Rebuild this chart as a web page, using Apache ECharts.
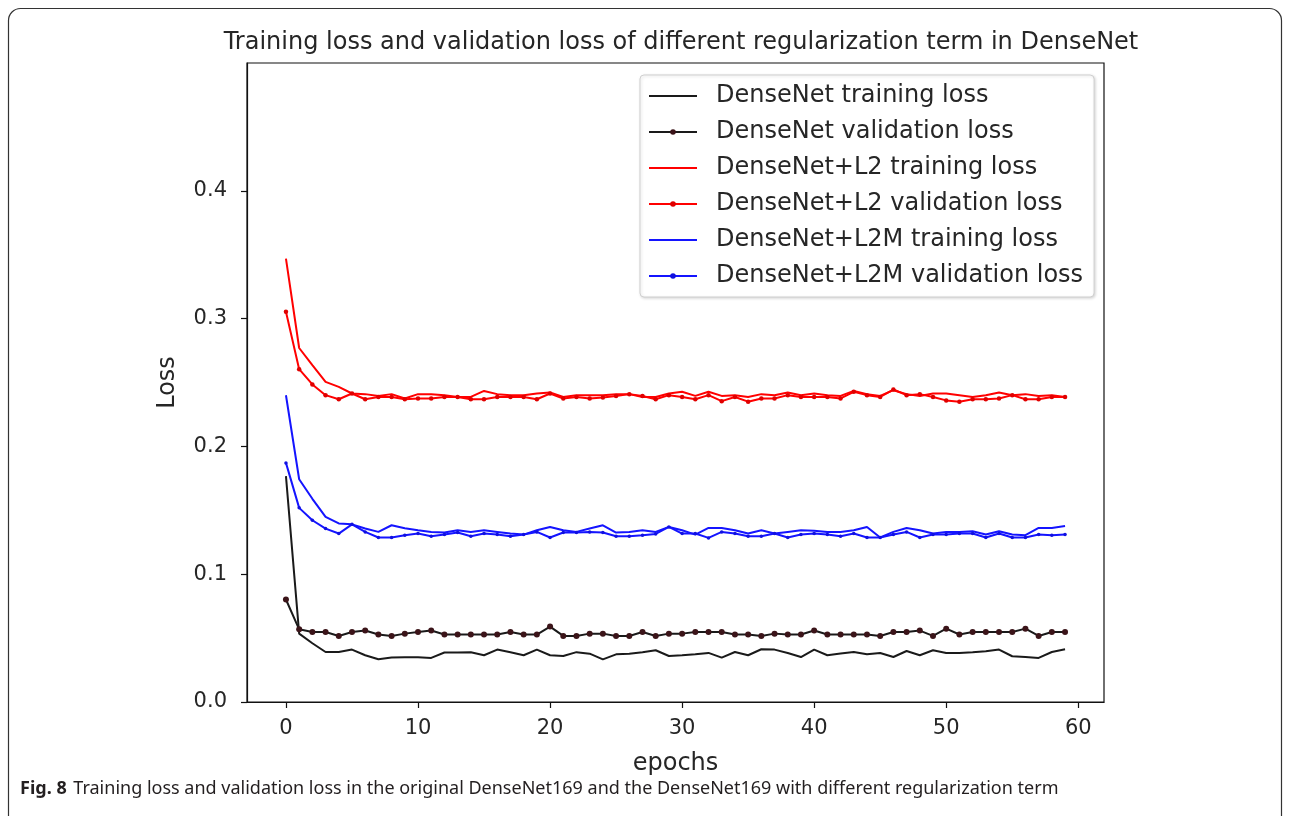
<!DOCTYPE html>
<html>
<head>
<meta charset="utf-8">
<title>DenseNet loss</title>
<script src="https://cdn.jsdelivr.net/npm/echarts@6/dist/echarts.min.js"></script>
<style>
  html, body { margin: 0; padding: 0; background: #fff; }
  #main { width: 1290px; height: 816px; }
</style>
</head>
<body>
<div id="main"></div>
<script>
// epochs 0..59
var epochs = Array.from({ length: 60 }, function (_, i) { return i })
var xTicks = [0, 10, 20, 30, 40, 50, 60]
var yTicks = [0, 0.1, 0.2, 0.3, 0.4]

var denseTrain = [
  0.1767, 0.0535, 0.046, 0.0391, 0.0391, 0.041, 0.0366, 0.0334, 0.0348, 0.035,
  0.035, 0.0345, 0.0387, 0.0387, 0.039, 0.0366, 0.041, 0.039, 0.0366, 0.041,
  0.0366, 0.036, 0.039, 0.0378, 0.0334, 0.0373, 0.0378, 0.039, 0.0405, 0.036,
  0.0366, 0.0373, 0.0384, 0.0347, 0.0391, 0.0366, 0.0413, 0.041, 0.0384, 0.0352,
  0.041, 0.0366, 0.0379, 0.0391, 0.0373, 0.0384, 0.0352, 0.0399, 0.0366, 0.0405,
  0.0384, 0.0384, 0.0389, 0.0397, 0.041, 0.0358, 0.0352, 0.0345, 0.0391, 0.0413
]
var denseVal = [
  0.0802, 0.0569, 0.0548, 0.0548, 0.0517, 0.0548, 0.0559, 0.0528, 0.0517, 0.0535,
  0.0548, 0.0559, 0.0528, 0.0528, 0.0528, 0.0528, 0.0528, 0.0548, 0.0528, 0.0528,
  0.059, 0.0517, 0.0517, 0.0535, 0.0535, 0.0517, 0.0517, 0.0548, 0.0517, 0.0535,
  0.0535, 0.0548, 0.0548, 0.0548, 0.0528, 0.0528, 0.0517, 0.0535, 0.0528, 0.0528,
  0.0559, 0.0528, 0.0528, 0.0528, 0.0528, 0.0517, 0.0548, 0.0548, 0.0559, 0.0517,
  0.0574, 0.0528, 0.0548, 0.0548, 0.0548, 0.0548, 0.0574, 0.0517, 0.0548, 0.0548
]
var l2Train = [
  0.347, 0.277, 0.2636, 0.2505, 0.2466, 0.2414, 0.2409, 0.2395, 0.2409, 0.2375,
  0.2409, 0.2409, 0.2401, 0.2387, 0.2387, 0.2434, 0.2409, 0.2401, 0.2401, 0.2414,
  0.2422, 0.2387, 0.2401, 0.2401, 0.2401, 0.2409, 0.2409, 0.2387, 0.2387, 0.2414,
  0.2427, 0.2395, 0.2427, 0.2395, 0.2401, 0.2387, 0.2409, 0.2401, 0.2422, 0.2401,
  0.2414, 0.2401, 0.2395, 0.2434, 0.2409, 0.2395, 0.244, 0.2409, 0.2395, 0.2414,
  0.2414, 0.2401, 0.2387, 0.2401, 0.2422, 0.2401, 0.2409, 0.2395, 0.2401, 0.2387
]
var l2Val = [
  0.3053, 0.2604, 0.2485, 0.2401, 0.2369, 0.2414, 0.2369, 0.2387, 0.2387, 0.2369,
  0.2375, 0.2375, 0.2387, 0.2387, 0.2369, 0.2369, 0.2387, 0.2387, 0.2387, 0.2369,
  0.2414, 0.2375, 0.2387, 0.2375, 0.2383, 0.2395, 0.2409, 0.2395, 0.2369, 0.2401,
  0.2387, 0.2369, 0.2401, 0.2354, 0.2387, 0.235, 0.2375, 0.2375, 0.2401, 0.2387,
  0.2387, 0.2387, 0.2375, 0.2427, 0.2401, 0.2387, 0.2445, 0.2401, 0.2409, 0.2387,
  0.236, 0.235, 0.2369, 0.2369, 0.2375, 0.2401, 0.2369, 0.2369, 0.2387, 0.2387
]
var l2mTrain = [
  0.24, 0.1743, 0.159, 0.1448, 0.1397, 0.139, 0.1357, 0.1331, 0.1383, 0.136,
  0.1344, 0.1331, 0.1326, 0.1344, 0.1331, 0.1344, 0.1331, 0.1318, 0.131, 0.1344,
  0.137, 0.1344, 0.1331, 0.1357, 0.1383, 0.1326, 0.1331, 0.1344, 0.1331, 0.137,
  0.1344, 0.131, 0.1362, 0.1362, 0.1344, 0.1318, 0.1344, 0.1318, 0.1331, 0.1344,
  0.134, 0.1331, 0.1331, 0.1344, 0.137, 0.1287, 0.1331, 0.1362, 0.1344, 0.1318,
  0.1331, 0.1331, 0.1336, 0.131, 0.1336, 0.131, 0.1305, 0.1362, 0.1362, 0.1378
]
var l2mVal = [
  0.1871, 0.1519, 0.1422, 0.1357, 0.1318, 0.139, 0.1331, 0.1287, 0.1287, 0.1305,
  0.1318, 0.1297, 0.131, 0.1326, 0.1297, 0.1318, 0.131, 0.1297, 0.131, 0.1331,
  0.1287, 0.1326, 0.1326, 0.1331, 0.1326, 0.1297, 0.1297, 0.1305, 0.1315, 0.137,
  0.1318, 0.1318, 0.1284, 0.1331, 0.1318, 0.1297, 0.1297, 0.1318, 0.1287, 0.131,
  0.1318, 0.131, 0.1297, 0.1318, 0.1287, 0.1287, 0.131, 0.1331, 0.1287, 0.131,
  0.131, 0.1318, 0.1318, 0.1287, 0.1318, 0.1287, 0.1287, 0.131, 0.1305, 0.131
]

var font = 'DejaVu Sans'
var textColor = '#262626'

function pairs (vals) {
  return epochs.map(function (e, i) { return [e, vals[i]] })
}

function lineSeries (name, vals, color, marker) {
  var s = {
    name: name,
    type: 'line',
    data: pairs(vals),
    lineStyle: { color: color, width: 2 },
    itemStyle: { color: color },
    symbol: 'none',
    animation: false,
    silent: true
  }
  if (marker) {
    s.symbol = 'circle'
    s.symbolSize = marker.size
    s.showAllSymbol = true
    s.itemStyle = { color: marker.color }
  }
  return s
}

// training entries: line only in the legend
function legendItem (name, withMarker) {
  return withMarker ? { name: name } : { name: name, itemStyle: { opacity: 0 } }
}

var chart = echarts.init(document.getElementById('main'))
var option = {
  backgroundColor: '#fff',
  animation: false,
  title: {
    text: 'Training loss and validation loss of different regularization term in DenseNet',
    left: 676,
    textAlign: 'center',
    top: 26,
    textStyle: { fontFamily: font, fontSize: 24, fontWeight: 'normal', color: textColor }
  },
  grid: {
    left: 247,
    right: 186,
    top: 63,
    bottom: 114,
    show: true,
    borderColor: '#111',
    borderWidth: 1.2,
    backgroundColor: 'transparent'
  },
  legend: {
    orient: 'vertical',
    left: 640,
    top: 75,
    padding: [8, 11, 8, 8],
    itemWidth: 48,
    itemHeight: 7,
    itemGap: 10,
    backgroundColor: '#fff',
    borderColor: '#d0d0d0',
    borderWidth: 1,
    borderRadius: 4,
    shadowColor: 'rgba(0,0,0,0.15)',
    shadowBlur: 3,
    shadowOffsetX: 1,
    shadowOffsetY: 1,
    textStyle: {
      fontFamily: font,
      fontSize: 24,
      color: textColor,
      lineHeight: 26,
      padding: [0, 0, 0, 14]
    },
    data: [
      legendItem('DenseNet training loss', false),
      legendItem('DenseNet validation loss', true),
      legendItem('DenseNet+L2 training loss', false),
      legendItem('DenseNet+L2 validation loss', true),
      legendItem('DenseNet+L2M training loss', false),
      legendItem('DenseNet+L2M validation loss', true)
    ]
  },
  xAxis: {
    type: 'value',
    min: -2.95,
    max: 61.95,
    name: 'epochs',
    nameLocation: 'middle',
    nameGap: 50,
    nameTextStyle: { fontFamily: font, fontSize: 24, color: textColor },
    splitLine: { show: false },
    axisLine: { show: true, onZero: false, lineStyle: { color: '#111', width: 1.2 } },
    axisTick: { show: true, length: 6, inside: false, customValues: xTicks, lineStyle: { color: '#111', width: 1.2 } },
    axisLabel: {
      customValues: xTicks,
      margin: 16,
      fontFamily: font,
      fontSize: 21,
      color: textColor
    }
  },
  yAxis: {
    type: 'value',
    min: 0,
    max: 0.5,
    name: 'Loss',
    nameLocation: 'middle',
    nameGap: 67,
    nameRotate: 90,
    nameTextStyle: { fontFamily: font, fontSize: 24, color: textColor },
    splitLine: { show: false },
    axisLine: { show: true, onZero: false, lineStyle: { color: '#111', width: 1.2 } },
    axisTick: { show: true, length: 6, customValues: yTicks, lineStyle: { color: '#111', width: 1.2 } },
    axisLabel: {
      customValues: yTicks,
      margin: 20,
      fontFamily: font,
      fontSize: 21,
      color: textColor,
      formatter: function (v) { return v.toFixed(1) }
    }
  },
  graphic: [
    {
      type: 'rect',
      silent: true,
      shape: { x: 8.5, y: 8.5, width: 1273, height: 900, r: 12 },
      style: { fill: 'none', stroke: '#333', lineWidth: 1.2 }
    },
    {
      type: 'text',
      left: 20,
      top: 780,
      silent: true,
      style: {
        text: '{b|Fig. 8}  {r|Training loss and validation loss in the original DenseNet169 and the DenseNet169 with different regularization term}',
        rich: {
          b: { fontFamily: 'Noto Sans', fontWeight: 'bold', fontSize: 18, fill: '#231f20' },
          r: { fontFamily: 'Noto Sans', fontSize: 18, fill: '#231f20' }
        }
      }
    }
  ],
  series: [
    lineSeries('DenseNet training loss', denseTrain, '#1a1a1a'),
    lineSeries('DenseNet validation loss', denseVal, '#1a1a1a', { size: 6, color: '#3b1419' }),
    lineSeries('DenseNet+L2 training loss', l2Train, '#ff0000'),
    lineSeries('DenseNet+L2 validation loss', l2Val, '#ff0000', { size: 4.5, color: '#e00000' }),
    lineSeries('DenseNet+L2M training loss', l2mTrain, '#1414ff'),
    lineSeries('DenseNet+L2M validation loss', l2mVal, '#1414ff', { size: 3.5, color: '#1010e0' })
  ]
}
chart.setOption(option)
</script>
</body>
</html>
